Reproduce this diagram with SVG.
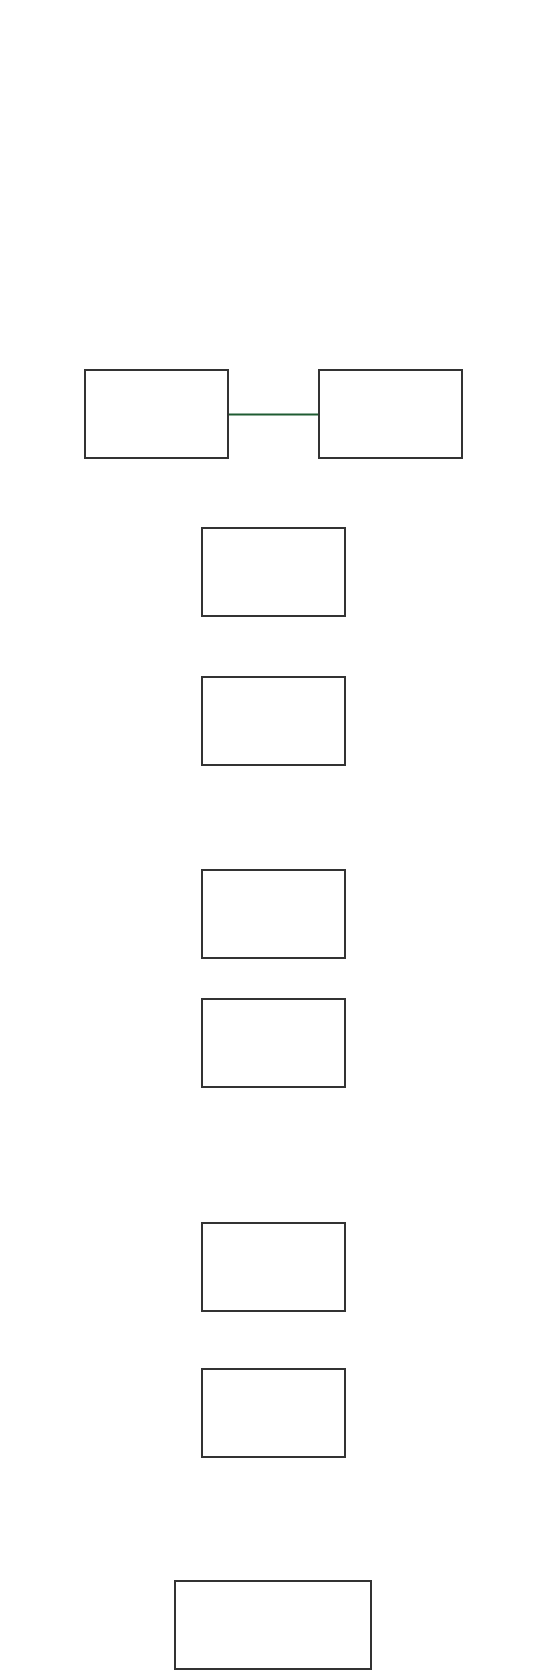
<svg xmlns="http://www.w3.org/2000/svg" width="541" height="1670" viewBox="0 0 541 1670">
<style>
.node rect{fill:#ffffff;stroke:#333333;stroke-width:2}
.edge{stroke:#1f5c32;stroke-width:2;fill:none}
</style>
<rect width="541" height="1670" fill="#ffffff"/>
<g id="connectors">
<line class="edge" x1="228" y1="414.5" x2="319" y2="414.5"/>
</g>
<g id="node1" class="node"><rect x="85" y="370" width="143" height="88"/></g>
<g id="node2" class="node"><rect x="319" y="370" width="143" height="88"/></g>
<g id="node3" class="node"><rect x="202" y="528" width="143" height="88"/></g>
<g id="node4" class="node"><rect x="202" y="677" width="143" height="88"/></g>
<g id="node5" class="node"><rect x="202" y="870" width="143" height="88"/></g>
<g id="node6" class="node"><rect x="202" y="999" width="143" height="88"/></g>
<g id="node7" class="node"><rect x="202" y="1223" width="143" height="88"/></g>
<g id="node8" class="node"><rect x="202" y="1369" width="143" height="88"/></g>
<g id="node9" class="node"><rect x="175" y="1581" width="196" height="88"/></g>
</svg>
